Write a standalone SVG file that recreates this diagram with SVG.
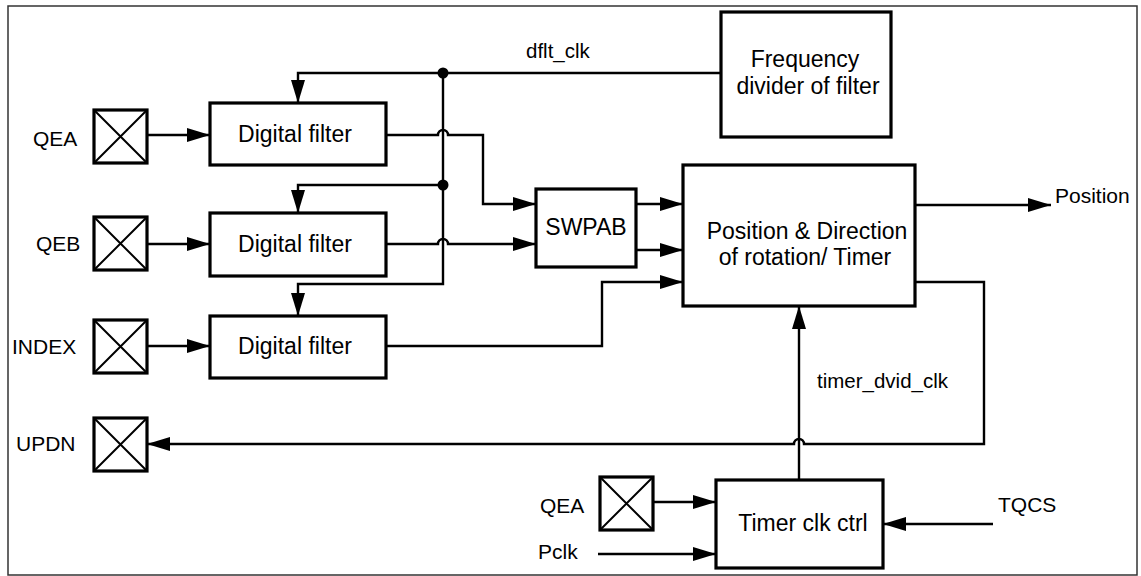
<svg xmlns="http://www.w3.org/2000/svg" width="1141" height="576" viewBox="0 0 1141 576">
<style>
.box{fill:#fff;stroke:#000;stroke-width:3.2}
.pad{fill:#fff;stroke:#000;stroke-width:3.2}
.x{stroke:#000;stroke-width:2;fill:none}
.w{fill:none;stroke:#000;stroke-width:2.4}
.a{marker-end:url(#ah)}
text{font-family:"Liberation Sans",Arial,sans-serif;fill:#000}
.bt{font-size:23px;text-anchor:middle}
.lb{font-size:21px}
.wl{font-size:20.5px}
</style>
<defs>
<marker id="ah" markerUnits="userSpaceOnUse" markerWidth="23" markerHeight="14" refX="23" refY="7" orient="auto">
<path d="M0,0 L23,7 L0,14 z" fill="#000"/>
</marker>
</defs>
<rect x="8" y="6" width="1129" height="569" fill="#fff" stroke="#333" stroke-width="1.5"/>

<g id="connectors">
<path class="w a" d="M147,135 H210"/>
<path class="w a" d="M147,244 H210"/>
<path class="w a" d="M147,346 H210"/>
<path class="w a" d="M720,73 H298 V103"/>
<path class="w a" d="M443,73 V284 H298 V316"/>
<path class="w a" d="M443,185 H298 V213"/>
<circle cx="443" cy="73" r="5.5" fill="#000"/>
<circle cx="443" cy="185" r="5.5" fill="#000"/>
<path class="w a" d="M386,135 H438 A5,5 0 0 1 448,135 H483 V204 H536"/>
<path class="w a" d="M386,244 H438 A5,5 0 0 1 448,244 H536"/>
<path class="w a" d="M386,346 H602 V282 H683"/>
<path class="w a" d="M636,204 H683"/>
<path class="w a" d="M636,250 H683"/>
<path class="w a" d="M915,205 H1051"/>
<path class="w a" d="M915,282 H984 V444 H804 A5,5 0 0 0 794,444 H147"/>
<path class="w a" d="M799,480 V306"/>
<path class="w a" d="M653,502 H716"/>
<path class="w a" d="M598,554 H716"/>
<path class="w a" d="M993,524 H883"/>
<text class="wl" x="526" y="58">dflt_clk</text>
<text class="wl" x="817" y="388">timer_dvid_clk</text>
<text class="lb" x="1055" y="203">Position</text>
</g>

<g id="pad-qea">
<rect class="pad" x="94" y="110" width="53" height="53"/>
<path class="x" d="M94,110 L147,163 M147,110 L94,163"/>
<text class="lb" x="33" y="146">QEA</text>
</g>
<g id="pad-qeb">
<rect class="pad" x="94" y="217" width="53" height="53"/>
<path class="x" d="M94,217 L147,270 M147,217 L94,270"/>
<text class="lb" x="36" y="251">QEB</text>
</g>
<g id="pad-index">
<rect class="pad" x="94" y="320" width="53" height="53"/>
<path class="x" d="M94,320 L147,373 M147,320 L94,373"/>
<text class="lb" x="12" y="354">INDEX</text>
</g>
<g id="pad-updn">
<rect class="pad" x="94" y="418" width="53" height="53"/>
<path class="x" d="M94,418 L147,471 M147,418 L94,471"/>
<text class="lb" x="16" y="451">UPDN</text>
</g>
<g id="pad-qea2">
<rect class="pad" x="600" y="477" width="53" height="53"/>
<path class="x" d="M600,477 L653,530 M653,477 L600,530"/>
<text class="lb" x="540" y="513">QEA</text>
</g>
<g id="in-pclk">
<text class="lb" x="538" y="559">Pclk</text>
</g>
<g id="in-tqcs">
<text class="lb" x="998" y="512">TQCS</text>
</g>

<g id="filter1">
<rect class="box" x="210" y="103" width="176" height="62"/>
<text class="bt" x="295" y="142">Digital filter</text>
</g>
<g id="filter2">
<rect class="box" x="210" y="213" width="176" height="63"/>
<text class="bt" x="295" y="252">Digital filter</text>
</g>
<g id="filter3">
<rect class="box" x="210" y="316" width="176" height="62"/>
<text class="bt" x="295" y="354">Digital filter</text>
</g>
<g id="swpab">
<rect class="box" x="536" y="189" width="100" height="78"/>
<text class="bt" x="586" y="235">SWPAB</text>
</g>
<g id="main">
<rect class="box" x="683" y="165" width="232" height="141"/>
<text class="bt" x="807" y="239">Position &amp; Direction</text>
<text class="bt" x="805" y="265">of rotation/ Timer</text>
</g>
<g id="freqdiv">
<rect class="box" x="721" y="12" width="170" height="125"/>
<text class="bt" x="805" y="67">Frequency</text>
<text class="bt" x="808" y="94">divider of filter</text>
</g>
<g id="timerclk">
<rect class="box" x="716" y="480" width="167" height="88"/>
<text class="bt" x="803" y="531">Timer clk ctrl</text>
</g>
</svg>
